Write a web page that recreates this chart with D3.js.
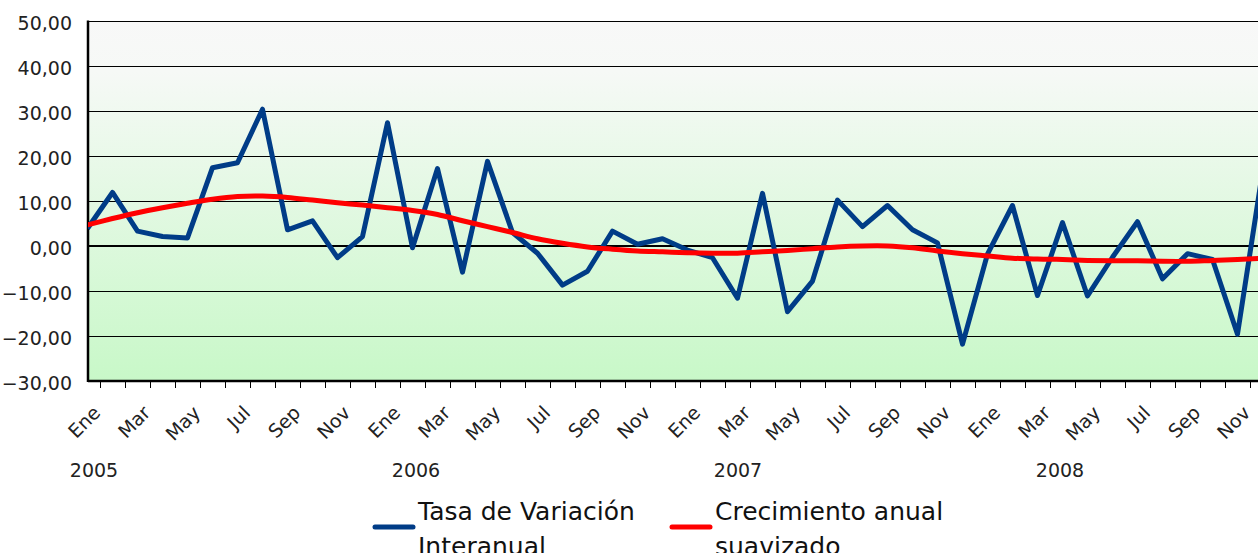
<!DOCTYPE html>
<html>
<head>
<meta charset="utf-8">
<script src="https://cdn.jsdelivr.net/npm/d3@7"></script>
<style>
  body { margin: 0; background: #fff; }
  svg { display: block; font-family: "DejaVu Sans", sans-serif; }
</style>
</head>
<body>
<div id="chart"></div>
<script>
var monthNames = ["Ene","Feb","Mar","Abr","May","Jun","Jul","Ago","Sep","Oct","Nov","Dic"];
var years = [2005, 2006, 2007, 2008];
var yTicks = [-30, -20, -10, 0, 10, 20, 30, 40, 50];

// Tasa de Variación Interanual (Ene 2005 - Dic 2008)
var tasaInteranual = [
  3.9, 11.9, 3.3, 2.1, 1.8, 17.4, 18.5, 30.4, 3.6, 5.6, -2.6, 2.1,
  27.4, -0.4, 17.2, -5.8, 18.8, 3.0, -1.6, -8.7, -5.6, 3.3, 0.4, 1.6,
  -0.9, -2.6, -11.6, 11.7, -14.6, -7.8, 10.2, 4.3, 9.0, 3.6, 0.7, -21.8,
  -1.8, 9.0, -11.0, 5.2, -11.1, -2.5, 5.4, -7.3, -1.7, -3.0, -19.6, 16.5
];
// Crecimiento anual suavizado
var crecimientoSuavizado = [
  4.7, 6.1, 7.4, 8.5, 9.5, 10.4, 11.0, 11.1, 10.8, 10.2, 9.6, 9.1,
  8.5, 7.9, 7.0, 5.6, 4.3, 3.0, 1.6, 0.6, -0.2, -0.7, -1.1, -1.3,
  -1.5, -1.6, -1.6, -1.3, -1.0, -0.6, -0.2, 0.0, 0.0, -0.4, -1.1, -1.7,
  -2.2, -2.7, -2.9, -3.0, -3.2, -3.3, -3.3, -3.4, -3.4, -3.2, -3.0, -2.7
];

var width = 1258, height = 553;
var plotLeft = 88, plotRight = 1275, plotTop = 21, plotBottom = 381;

var categories = [];
years.forEach(function (yr) {
  monthNames.forEach(function (m) { categories.push({year: yr, month: m}); });
});
var idx = d3.range(categories.length);

var svg = d3.select("#chart").append("svg")
  .attr("width", width)
  .attr("height", height);

var x = d3.scaleBand()
  .domain(idx)
  .range([75, 1275]);

var y = d3.scaleLinear()
  .domain([-30, 50])
  .range([plotBottom, plotTop]);

var cx = function (i) { return x(i) + x.bandwidth() / 2; };

var defs = svg.append("defs");
var grad = defs.append("linearGradient")
  .attr("id", "bg")
  .attr("x1", 0).attr("y1", 0).attr("x2", 0).attr("y2", 1);
grad.append("stop").attr("offset", "0").attr("stop-color", "#f8f8f8");
grad.append("stop").attr("offset", "0.14").attr("stop-color", "#f6f9f6");
grad.append("stop").attr("offset", "1").attr("stop-color", "#c8f8c8");

defs.append("clipPath").attr("id", "plotclip")
  .append("rect")
  .attr("x", plotLeft).attr("y", plotTop - 3)
  .attr("width", plotRight - plotLeft).attr("height", plotBottom - plotTop + 6);

svg.append("rect")
  .attr("x", plotLeft).attr("y", plotTop)
  .attr("width", plotRight - plotLeft)
  .attr("height", plotBottom - plotTop)
  .attr("fill", "url(#bg)");

// gridlines
svg.append("g")
  .attr("shape-rendering", "crispEdges")
  .selectAll("line")
  .data(yTicks.filter(function (d) { return d > -30; }))
  .enter().append("line")
  .attr("x1", plotLeft).attr("x2", plotRight)
  .attr("y1", function (d) { return y(d); })
  .attr("y2", function (d) { return y(d); })
  .attr("stroke", "#000")
  .attr("stroke-width", function (d) { return d === 0 ? 2 : 1; });

// y labels
svg.append("g")
  .selectAll("text")
  .data(yTicks)
  .enter().append("text")
  .attr("x", 72)
  .attr("y", function (d) { return y(d) + 9; })
  .attr("text-anchor", "end")
  .attr("font-size", "19px")
  .attr("fill", "#222")
  .text(function (d) { return d3.format(".2f")(d).replace(".", ","); });

// x ticks at category boundaries
svg.append("g")
  .attr("shape-rendering", "crispEdges")
  .selectAll("line")
  .data(idx.slice(1))
  .enter().append("line")
  .attr("x1", function (i) { return x(i); })
  .attr("x2", function (i) { return x(i); })
  .attr("y1", plotBottom)
  .attr("y2", plotBottom + 7)
  .attr("stroke", "#000")
  .attr("stroke-width", 1);

// axis lines
svg.append("line")
  .attr("x1", plotLeft).attr("x2", plotRight)
  .attr("y1", plotBottom).attr("y2", plotBottom)
  .attr("stroke", "#000").attr("stroke-width", 2.5);
svg.append("line")
  .attr("x1", plotLeft).attr("x2", plotLeft)
  .attr("y1", plotTop - 0.5).attr("y2", plotBottom + 1)
  .attr("stroke", "#000").attr("stroke-width", 2.5);

// month labels every second month
svg.append("g")
  .selectAll("text")
  .data(idx.filter(function (i) { return i % 2 === 0; }))
  .enter().append("text")
  .attr("transform", function (i) { return "translate(" + (cx(i) + 14) + "," + 414 + ") rotate(-45)"; })
  .attr("text-anchor", "end")
  .attr("font-size", "19px")
  .attr("fill", "#222")
  .text(function (i) { return categories[i].month; });

// year labels
var yearX = d3.scaleLinear().domain([2005, 2008]).range([94, 1060]);
svg.append("g")
  .selectAll("text")
  .data(years)
  .enter().append("text")
  .attr("x", function (d) { return yearX(d); })
  .attr("y", 477)
  .attr("text-anchor", "middle")
  .attr("font-size", "19px")
  .attr("fill", "#222")
  .text(function (d) { return d; });

var plot = svg.append("g").attr("clip-path", "url(#plotclip)");

var lineTasa = d3.line()
  .x(function (d, i) { return cx(i); })
  .y(function (d) { return y(d); });

var lineSuave = d3.line()
  .x(function (d, i) { return cx(i); })
  .y(function (d) { return y(d); })
  .curve(d3.curveCatmullRom.alpha(0.5));

plot.append("path")
  .datum(tasaInteranual)
  .attr("d", lineTasa)
  .attr("fill", "none")
  .attr("stroke", "#003c87")
  .attr("stroke-width", 5)
  .attr("stroke-linejoin", "round");

plot.append("path")
  .datum(crecimientoSuavizado)
  .attr("d", lineSuave)
  .attr("fill", "none")
  .attr("stroke", "#ff0000")
  .attr("stroke-width", 5)
  .attr("stroke-linejoin", "round");

// legend
var legendItems = [
  {lines: ["Tasa de Variación", "Interanual"], color: "#003c87", x: 373},
  {lines: ["Crecimiento anual", "suavizado"], color: "#ff0000", x: 670}
];
var legend = svg.append("g")
  .selectAll("g")
  .data(legendItems)
  .enter().append("g")
  .attr("transform", function (d) { return "translate(" + d.x + ",0)"; });

legend.append("line")
  .attr("x1", 2).attr("x2", 40)
  .attr("y1", 527).attr("y2", 527)
  .attr("stroke", function (d) { return d.color; })
  .attr("stroke-width", 5)
  .attr("stroke-linecap", "round");

legend.append("text")
  .attr("x", 45)
  .attr("y", 520)
  .attr("font-size", "25px")
  .attr("fill", "#111")
  .selectAll("tspan")
  .data(function (d) { return d.lines; })
  .enter().append("tspan")
  .attr("x", 45)
  .attr("dy", function (d, i) { return i === 0 ? 0 : 35; })
  .text(function (d) { return d; });
</script>
</body>
</html>
